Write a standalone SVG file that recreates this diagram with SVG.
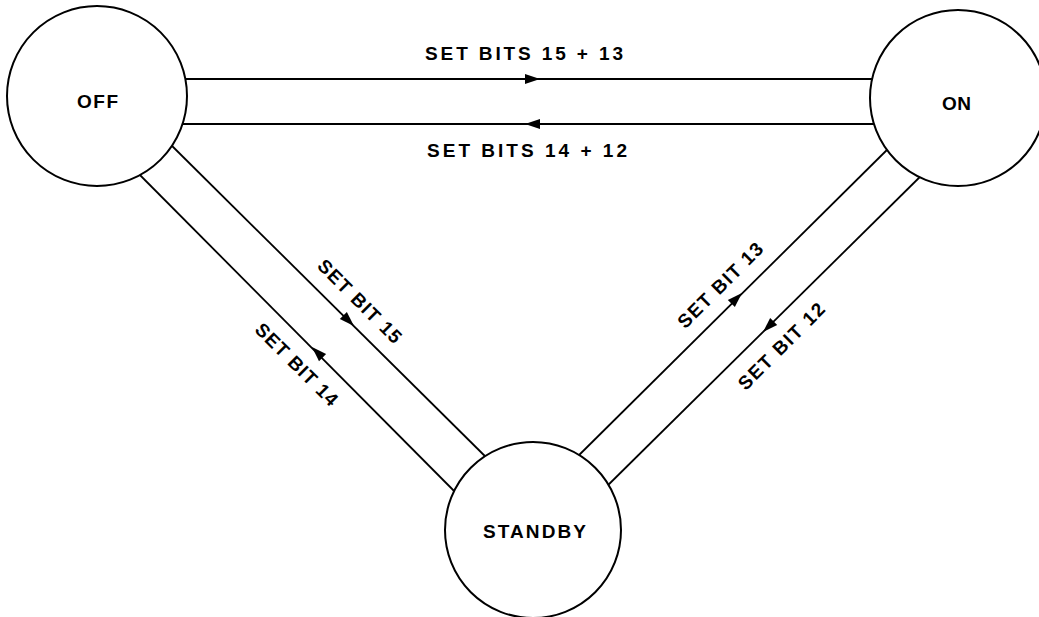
<svg xmlns="http://www.w3.org/2000/svg" width="1039" height="617" viewBox="0 0 1039 617">
<style>
.ln{stroke:#000;stroke-width:1.8;fill:none}
.nd{stroke:#000;stroke-width:2;fill:#fff}
.tx{font-family:"Liberation Sans",Arial,sans-serif;font-weight:bold;font-size:19px;fill:#000}
.ah{fill:#000}
</style>
<defs>
<path id="ah" d="M0,0 L-15,-5 L-15,5 Z"/>
</defs>
<rect width="1039" height="617" fill="#fff"/>
<g id="connectors">
<line class="ln" x1="150" y1="79" x2="900" y2="79"/>
<line class="ln" x1="150" y1="124" x2="900" y2="124"/>
<line class="ln" x1="160" y1="134" x2="500" y2="471"/>
<line class="ln" x1="128" y1="163" x2="470" y2="507"/>
<line class="ln" x1="900" y1="137" x2="565" y2="469"/>
<line class="ln" x1="933" y1="164" x2="595" y2="498"/>
<use href="#ah" class="ah" transform="translate(540,79)"/>
<use href="#ah" class="ah" transform="translate(525,124) rotate(180)"/>
<use href="#ah" class="ah" transform="translate(354,326) rotate(44.7)"/>
<use href="#ah" class="ah" transform="translate(312,347) rotate(-134.8)"/>
<use href="#ah" class="ah" transform="translate(742,293) rotate(-44.7)"/>
<use href="#ah" class="ah" transform="translate(763,332) rotate(135.4)"/>
<text class="tx" x="524" y="60" text-anchor="middle" textLength="198" lengthAdjust="spacing">SET BITS 15 + 13</text>
<text class="tx" x="527" y="157" text-anchor="middle" textLength="200" lengthAdjust="spacing">SET BITS 14 + 12</text>
<text class="tx" transform="translate(360,301) rotate(45)" x="0" y="7" text-anchor="middle" textLength="110" lengthAdjust="spacing">SET BIT 15</text>
<text class="tx" transform="translate(297,364) rotate(45)" x="0" y="7" text-anchor="middle" textLength="108" lengthAdjust="spacing">SET BIT 14</text>
<text class="tx" transform="translate(720,285) rotate(-45)" x="0" y="7" text-anchor="middle" textLength="112" lengthAdjust="spacing">SET BIT 13</text>
<text class="tx" transform="translate(781,346) rotate(-45)" x="0" y="7" text-anchor="middle" textLength="114" lengthAdjust="spacing">SET BIT 12</text>
</g>
<g id="node-off">
<circle class="nd" cx="97" cy="96" r="90"/>
<text class="tx" x="97.5" y="108" text-anchor="middle" textLength="41" lengthAdjust="spacing">OFF</text>
</g>
<g id="node-on">
<circle class="nd" cx="958" cy="98" r="88"/>
<text class="tx" x="956.5" y="110" text-anchor="middle" textLength="29" lengthAdjust="spacing">ON</text>
</g>
<g id="node-standby">
<circle class="nd" cx="533" cy="530" r="88"/>
<text class="tx" x="534.5" y="538" text-anchor="middle" textLength="103" lengthAdjust="spacing">STANDBY</text>
</g>
</svg>
